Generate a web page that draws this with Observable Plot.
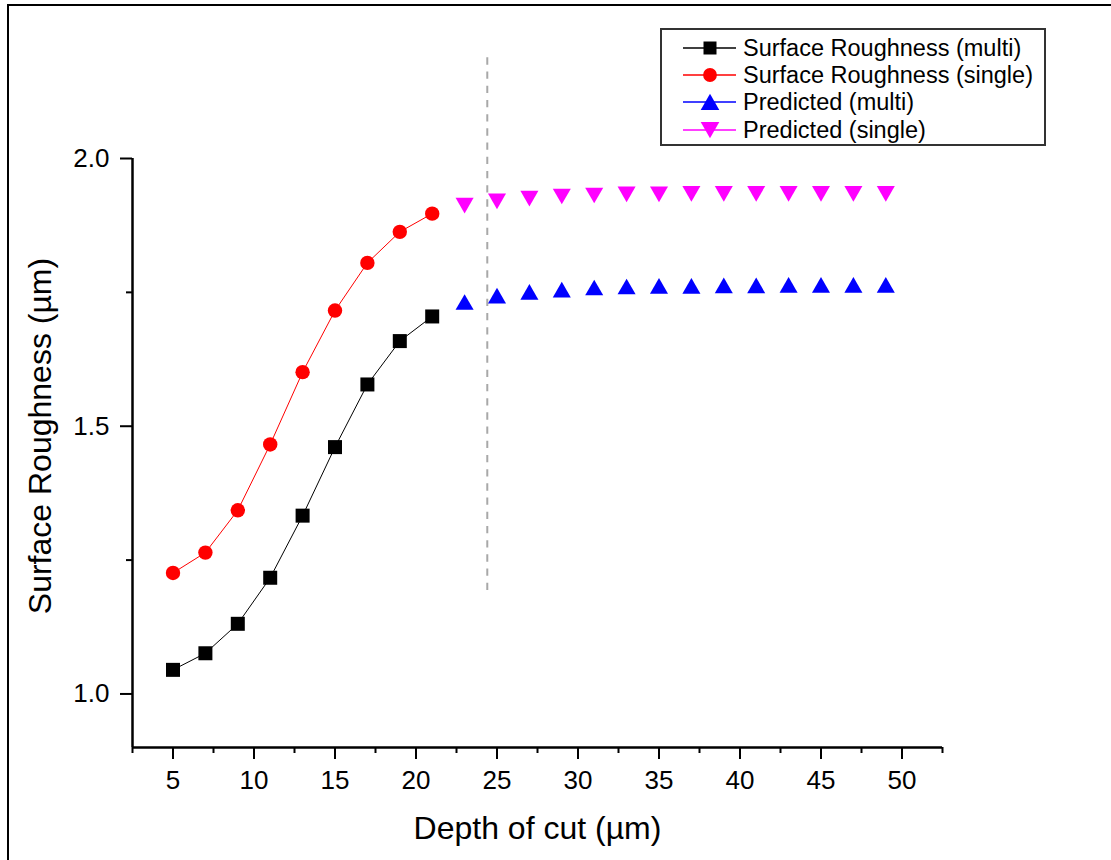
<!DOCTYPE html>
<html>
<head>
<meta charset="utf-8">
<script src="https://cdn.jsdelivr.net/npm/d3@7"></script>
<script src="https://cdn.jsdelivr.net/npm/@observablehq/plot@0.6"></script>
<style>
  html, body { margin: 0; padding: 0; background: #fff; }
  #wrap { position: relative; width: 1111px; height: 860px; overflow: hidden; background: #fff;
          font-family: "Liberation Sans", Arial, sans-serif; }
  #frame { position: absolute; left: 7px; top: 4px; width: 1120px; height: 880px;
           border-left: 2px solid #000; border-top: 2px solid #000; box-sizing: border-box; }
  #chart { position: absolute; left: 0; top: 0; }
  #legend { position: absolute; left: 660px; top: 28px; width: 386px; height: 118px;
            border: 2px solid #333; box-sizing: border-box; background: #fff; }
  .lrow { position: absolute; left: 683px; height: 28px; display: flex; align-items: center; }
  .lrow svg { display: block; }
  .lrow span { position: absolute; left: 60px; top: 0; white-space: nowrap; font-size: 23.5px;
               line-height: 28px; color: #000; }
</style>
</head>
<body>
<div id="wrap">
  <div id="frame"></div>
  <div id="chart"></div>
  <div id="legend"></div>
</div>
<script>
// ---- data ----
const depthExp = [5, 7, 9, 11, 13, 15, 17, 19, 21];
const roughMulti = [1.045, 1.076, 1.131, 1.217, 1.333, 1.461, 1.578, 1.659, 1.705];
const roughSingle = [1.226, 1.264, 1.343, 1.466, 1.601, 1.716, 1.805, 1.863, 1.897];

const depthPred = [23, 25, 27, 29, 31, 33, 35, 37, 39, 41, 43, 45, 47, 49];
const predMulti = [1.732, 1.744, 1.751, 1.755, 1.759, 1.761, 1.762, 1.762, 1.763, 1.763, 1.764, 1.764, 1.764, 1.764];
const predSingle = [1.912, 1.920, 1.925, 1.929, 1.931, 1.933, 1.933, 1.934, 1.934, 1.934, 1.934, 1.934, 1.934, 1.934];

const xMajorTicks = [5, 10, 15, 20, 25, 30, 35, 40, 45, 50];
const xMinorTicks = [2.5, 7.5, 12.5, 17.5, 22.5, 27.5, 32.5, 37.5, 42.5, 47.5, 52.5];
const yMajorTicks = [1.0, 1.5, 2.0];
const yMinorTicks = [1.25, 1.75];
const xDomain = [2.5, 52.5];
const yDomain = [0.9, 2.0];

const dividerX = [24.4];
const dividerY = [2.188, 1.181];

const seriesNames = ["Surface Roughness (multi)", "Surface Roughness (single)", "Predicted (multi)", "Predicted (single)"];
const seriesColors = ["#000000", "#ff0000", "#0000ff", "#ff00ff"];
const seriesSymbols = ["square", "circle", "triangle", "triangle-down"];

const xTitle = "Depth of cut (µm)";
const yTitle = "Surface Roughness (µm)";

// ---- tables ----
const expMulti = depthExp.map((x, i) => ({x, y: roughMulti[i]}));
const expSingle = depthExp.map((x, i) => ({x, y: roughSingle[i]}));
const prdMulti = depthPred.map((x, i) => ({x, y: predMulti[i]}));
const prdSingle = depthPred.map((x, i) => ({x, y: predSingle[i]}));

const font = "'Liberation Sans', Arial, sans-serif";

const chart = Plot.plot({
  width: 1111,
  height: 860,
  marginLeft: 132,
  marginRight: 169,
  marginTop: 158,
  marginBottom: 113,
  x: {domain: xDomain},
  y: {domain: yDomain},
  style: {fontFamily: font, fontSize: "26px", background: "transparent", overflow: "visible", color: "#000"},
  marks: [
    Plot.ruleX(dividerX, {y1: dividerY[0], y2: dividerY[1], stroke: "#a8a8a8", strokeWidth: 2, strokeDasharray: "7.3,6.9"}),
    Plot.line(expMulti, {x: "x", y: "y", stroke: seriesColors[0], strokeWidth: 1}),
    Plot.line(expSingle, {x: "x", y: "y", stroke: seriesColors[1], strokeWidth: 1}),
    Plot.dot(expMulti, {x: "x", y: "y", symbol: "square", r: 7.9, fill: seriesColors[0]}),
    Plot.dot(expSingle, {x: "x", y: "y", symbol: "circle", r: 7.2, fill: seriesColors[1]}),
    Plot.dot(prdMulti, {x: "x", y: "y", symbol: "triangle", r: 6.7, fill: seriesColors[2], dy: 2.6}),
    Plot.dot(prdSingle, {x: "x", y: "y", symbol: "triangle", r: 6.7, fill: seriesColors[3], rotate: 180, dy: -2.6}),
    Plot.ruleX([xDomain[0]], {stroke: "#000", strokeWidth: 2.5}),
    Plot.ruleY([yDomain[0]], {stroke: "#000", strokeWidth: 2.5}),
    Plot.axisX(xMajorTicks, {tickSize: 12, tickPadding: 11, fontSize: 26, strokeWidth: 2, label: null, tickFormat: d3.format("d")}),
    Plot.axisX(xMinorTicks, {tickSize: 6, tickFormat: () => "", strokeWidth: 2, label: null}),
    Plot.axisY(yMajorTicks, {tickSize: 12, tickPadding: 11, fontSize: 26, strokeWidth: 2, label: null, tickFormat: d3.format(".1f")}),
    Plot.axisY(yMinorTicks, {tickSize: 6, tickFormat: () => "", strokeWidth: 2, label: null}),
    Plot.text([xTitle], {text: d => d, frameAnchor: "bottom", lineAnchor: "bottom", textAnchor: "middle", dy: 91, fontSize: 32}),
    Plot.text([yTitle], {text: d => d, frameAnchor: "left", lineAnchor: "top", textAnchor: "middle", rotate: -90, dx: -104, dy: -17, fontSize: 32})
  ]
});
document.getElementById("chart").appendChild(chart);

// enforce tick label size and tick stroke width
d3.select(chart).selectAll('g[aria-label$="tick label"]').attr("font-size", 26).style("font-size", "26px");
d3.select(chart).selectAll('g[aria-label$="tick label"] text').style("font-size", "26px");
d3.select(chart).selectAll('g[aria-label$="-axis tick"]').attr("stroke-width", 2).style("stroke-width", "2px");

// ---- legend ----
const wrap = d3.select("#wrap");
const rowCenters = [48, 75.2, 102.4, 129.6];
const symbolMap = {square: d3.symbolSquare, circle: d3.symbolCircle, triangle: d3.symbolTriangle, "triangle-down": d3.symbolTriangle};
const symbolSize = {square: 169, circle: 150, triangle: 150, "triangle-down": 150};
seriesNames.forEach((name, i) => {
  const row = wrap.append("div").attr("class", "lrow").style("top", (rowCenters[i] - 14) + "px");
  const svg = row.append("svg").attr("width", 56).attr("height", 28);
  svg.append("line").attr("x1", 0).attr("x2", 53).attr("y1", 14).attr("y2", 14)
     .attr("stroke", seriesColors[i]).attr("stroke-width", 1.5);
  const s = seriesSymbols[i];
  const isDown = s === "triangle-down";
  const isTri = s.startsWith("triangle");
  svg.append("path")
     .attr("d", d3.symbol().type(symbolMap[s]).size(symbolSize[s])())
     .attr("transform", `translate(27,${14 + (isTri ? (isDown ? -2.6 : 2.6) : 0)})${isDown ? " rotate(180)" : ""}`)
     .attr("fill", seriesColors[i]);
  row.append("span").text(name);
});
</script>
</body>
</html>
